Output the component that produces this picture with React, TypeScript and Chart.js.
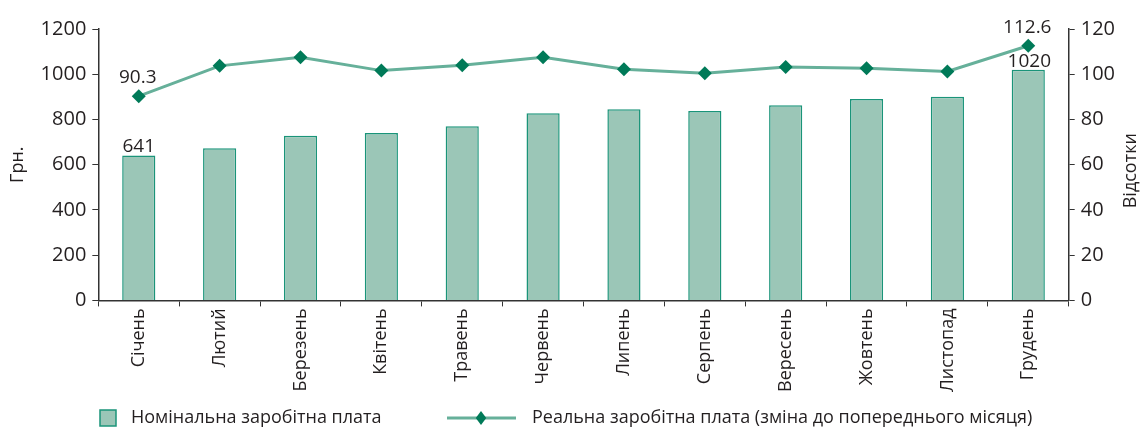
import React, { useEffect, useRef } from "react";
import { Chart, registerables } from "chart.js";

Chart.register(...registerables);

const months = [
  "Січень", "Лютий", "Березень", "Квітень", "Травень", "Червень",
  "Липень", "Серпень", "Вересень", "Жовтень", "Листопад", "Грудень",
];
const nominal = [641, 673, 728, 740, 770, 828, 845, 837, 863, 890, 901, 1020];
const real = [90.3, 103.7, 107.5, 101.6, 104.0, 107.5, 102.2, 100.4, 103.2, 102.6, 101.2, 112.6];
const leftTicks = [0, 200, 400, 600, 800, 1000, 1200];
const rightTicks = [0, 20, 40, 60, 80, 100, 120];
const barLabel = "Номінальна заробітна плата";
const lineLabel = "Реальна заробітна плата (зміна до попереднього місяця)";
const leftTitle = "Грн.";
const rightTitle = "Відсотки";

const FONT = "'Open Sans', 'Noto Sans', sans-serif";
const TEXT = "#231f20";
const BAR_FILL = "#9bc6b7";
const BAR_BORDER = "#1a9479";
const LINE = "#66b09a";
const MARK = "#007a58";

export default function App() {
  const ref = useRef<HTMLCanvasElement | null>(null);

  useEffect(() => {
    document.body.style.margin = "0";
    const canvas = ref.current;
    if (!canvas) return;

    const overlay = {
      id: "overlay",
      afterDraw(chart: any) {
        const ctx = chart.ctx;
        const area = chart.chartArea;
        ctx.save();
        ctx.fillStyle = TEXT;
        ctx.font = `19px ${FONT}`;
        ctx.textBaseline = "bottom";
        ctx.textAlign = "center";
        const bars = chart.getDatasetMeta(0).data;
        const pts = chart.getDatasetMeta(1).data;
        const firstBar = bars[0];
        const lastBar = bars[bars.length - 1];
        ctx.fillText(String(nominal[0]), firstBar.x, firstBar.y + 1);
        ctx.fillText(String(nominal[nominal.length - 1]), lastBar.x + 1, lastBar.y + 1);
        const p0 = pts[0];
        const pl = pts[pts.length - 1];
        ctx.fillText(real[0].toFixed(1), p0.x - 1, p0.y - 9);
        ctx.fillText(real[real.length - 1].toFixed(1), pl.x - 1, pl.y - 9);

        // right axis title, reading bottom-to-top
        ctx.save();
        ctx.font = `18px ${FONT}`;
        ctx.textAlign = "center";
        ctx.textBaseline = "middle";
        ctx.translate(1131, (area.top + area.bottom) / 2 + 6);
        ctx.rotate(-Math.PI / 2);
        ctx.fillText(rightTitle, 0, 0);
        ctx.restore();

        // legend
        const ly = 418;
        ctx.font = `18px ${FONT}`;
        ctx.textAlign = "left";
        ctx.textBaseline = "middle";
        ctx.fillStyle = BAR_FILL;
        ctx.fillRect(100, ly - 8, 16, 16);
        ctx.strokeStyle = BAR_BORDER;
        ctx.lineWidth = 1.5;
        ctx.strokeRect(100, ly - 8, 16, 16);
        ctx.fillStyle = TEXT;
        ctx.fillText(barLabel, 131, ly);

        ctx.strokeStyle = LINE;
        ctx.lineWidth = 3;
        ctx.beginPath();
        ctx.moveTo(447, ly);
        ctx.lineTo(516, ly);
        ctx.stroke();
        ctx.fillStyle = MARK;
        ctx.beginPath();
        const cx = 481, r = 7;
        ctx.moveTo(cx, ly - r);
        ctx.lineTo(cx + r * 0.75, ly);
        ctx.lineTo(cx, ly + r);
        ctx.lineTo(cx - r * 0.75, ly);
        ctx.closePath();
        ctx.fill();
        ctx.fillStyle = TEXT;
        ctx.fillText(lineLabel, 532, ly);
        ctx.restore();
      },
    };

    const chart = new Chart(canvas, {
      type: "bar",
      data: {
        labels: months,
        datasets: [
          {
            type: "bar",
            label: barLabel,
            data: nominal,
            backgroundColor: BAR_FILL,
            borderColor: BAR_BORDER,
            borderWidth: 1.5,
            categoryPercentage: 1,
            barPercentage: 0.41,
            yAxisID: "y",
            order: 2,
          },
          {
            type: "line",
            label: lineLabel,
            data: real,
            borderColor: LINE,
            borderWidth: 3,
            pointStyle: "rectRot",
            pointRadius: 7,
            pointBackgroundColor: MARK,
            pointBorderColor: MARK,
            pointBorderWidth: 0,
            yAxisID: "y1",
            order: 1,
          },
        ],
      },
      options: {
        responsive: false,
        animation: false,
        layout: { padding: { top: 29, bottom: 36, left: 7, right: 21 } },
        plugins: {
          legend: { display: false },
          tooltip: { enabled: false },
        },
        scales: {
          x: {
            grid: {
              display: true,
              drawOnChartArea: false,
              drawTicks: true,
              tickLength: 6,
              color: "#333",
              offset: true,
            },
            border: { color: "#333", width: 1.5 },
            ticks: {
              minRotation: 90,
              maxRotation: 90,
              color: TEXT,
              font: { family: FONT, size: 18 },
              padding: 2,
            },
          },
          y: {
            position: "left",
            min: 0,
            max: 1200,
            afterBuildTicks: (axis: any) => {
              axis.ticks = leftTicks.map((v) => ({ value: v }));
            },
            grid: { display: true, drawOnChartArea: false, tickLength: 6, color: "#333" },
            border: { color: "#333", width: 1.5 },
            ticks: {
              color: TEXT,
              font: { family: FONT, size: 20 },
              padding: 6,
              callback: (v: any) => String(v),
            },
            title: {
              display: true,
              text: leftTitle,
              color: TEXT,
              font: { family: FONT, size: 18 },
              padding: { top: 0, bottom: 6 },
            },
          },
          y1: {
            position: "right",
            min: 0,
            max: 120,
            afterBuildTicks: (axis: any) => {
              axis.ticks = rightTicks.map((v) => ({ value: v }));
            },
            grid: { display: true, drawOnChartArea: false, tickLength: 6, color: "#333" },
            border: { color: "#333", width: 1.5 },
            ticks: {
              color: TEXT,
              font: { family: FONT, size: 20 },
              padding: 6,
              callback: (v: any) => String(v),
            },
          },
        },
      },
      plugins: [overlay],
    });

    return () => chart.destroy();
  }, []);

  return (
    <div style={{ width: 1142, height: 430, background: "#fff" }}>
      <canvas ref={ref} width={1142} height={430} style={{ display: "block" }} />
    </div>
  );
}
